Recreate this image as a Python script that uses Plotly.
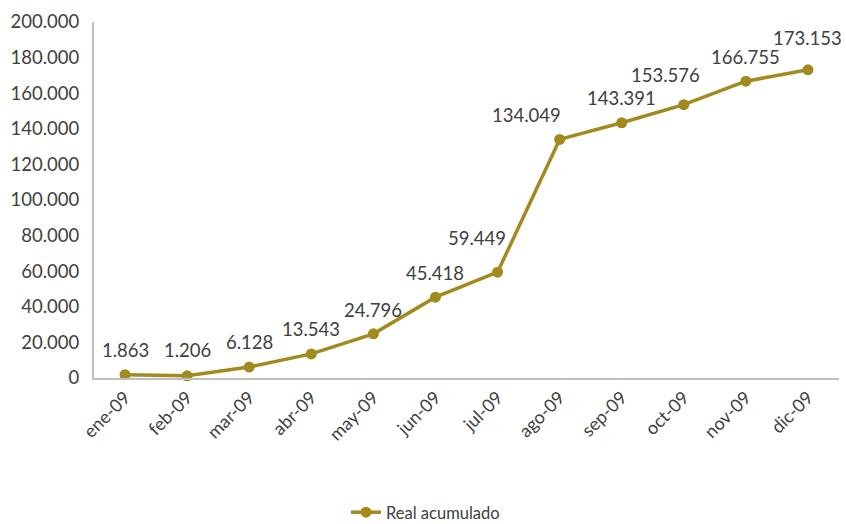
import plotly.graph_objects as go

categories = ["ene-09", "feb-09", "mar-09", "abr-09", "may-09", "jun-09",
              "jul-09", "ago-09", "sep-09", "oct-09", "nov-09", "dic-09"]
real_acumulado = [1863, 1206, 6128, 13543, 24796, 45418,
                  59449, 134049, 143391, 153576, 166755, 173153]
y_ticks = [0, 20000, 40000, 60000, 80000, 100000, 120000, 140000, 160000, 180000, 200000]

# label placement offsets (pixels), style only
label_dx = [0, 0, 0, 0, 0, 0, -21, -33, 0, -18, 0, 0]
label_dy = [25, 26, 25, 25, 24, 24, 34, 24, 25, 30, 24, 32]

color = "#A38A1E"
font = "Lato, Open Sans, sans-serif"

def fmt(v):
    return f"{v:,}".replace(",", ".")

fig = go.Figure()
fig.add_trace(go.Scatter(
    x=categories, y=real_acumulado, name="Real acumulado",
    mode="lines+markers",
    line=dict(color=color, width=3.5),
    marker=dict(color=color, size=11),
    cliponaxis=False,
))

for c, v, dx, dy in zip(categories, real_acumulado, label_dx, label_dy):
    fig.add_annotation(x=c, y=v, text=fmt(v), showarrow=False,
                       xanchor="center", yanchor="middle",
                       xshift=dx, yshift=dy,
                       font=dict(family=font, size=18.5, color="#404040"))

fig.update_layout(
    width=846, height=524,
    margin=dict(l=94, r=7, t=22, b=146),
    paper_bgcolor="white", plot_bgcolor="white",
    separators=",.",
    font=dict(family=font, size=17, color="#404040"),
    showlegend=True,
    legend=dict(orientation="h", x=0.445, xanchor="center",
                yref="container", y=0.022, yanchor="middle",
                bgcolor="rgba(0,0,0,0)",
                font=dict(family=font, size=16.5, color="#404040")),
    xaxis=dict(range=[-0.5, 11.5], showgrid=False, showline=True,
               linecolor="#BFBFBF", linewidth=2,
               tickangle=-45, ticks="", zeroline=False,
               tickfont=dict(family=font, size=18, color="#404040")),
    yaxis=dict(range=[0, 200000], tickvals=y_ticks, tickformat=",",
               showgrid=False, showline=True, linecolor="#BFBFBF", linewidth=2,
               ticks="", zeroline=False, ticklabelstandoff=9,
               tickfont=dict(family=font, size=18.5, color="#404040")),
)

fig.write_html("out.html")
